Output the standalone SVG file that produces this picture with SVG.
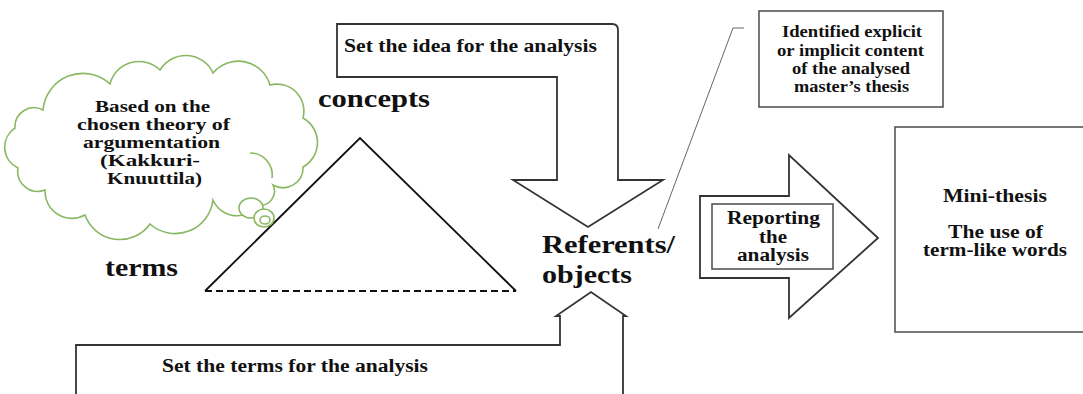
<svg xmlns="http://www.w3.org/2000/svg" width="1083" height="394" viewBox="0 0 1083 394">
<style>
text{font-family:"Liberation Serif","Times New Roman",serif;font-weight:bold;fill:#111}
.s{font-size:18px}
.c{font-size:16px}
.b{font-size:26px}
.shape{fill:#fff;stroke:#333;stroke-width:1.8;stroke-linejoin:miter}
.box{fill:#fff;stroke:#555;stroke-width:1.6}
.cloud{fill:#fff;stroke:#88b862;stroke-width:1.6}
</style>
<rect width="1083" height="394" fill="#fff"/>
<g id="connectors">
<path class="shape" d="M337,24 H612 Q618,24 618,30 V180 H663 L588,227 L513,180 H557 V77 H337 Z"/>
<path class="shape" d="M76,396 V345 H560 V316 H556 L591,292 L626,316 H623 V396"/>
<path class="shape" d="M700,196 H789 V155 L878,238 L789,318 V278 H700 Z"/>
<path d="M658,229 L733,28 H744" fill="none" stroke="#666" stroke-width="1"/>
</g>
<g id="idea-label"><text class="s" x="344" y="52" textLength="253" lengthAdjust="spacingAndGlyphs">Set the idea for the analysis</text></g>
<g id="terms-label"><text class="s" x="162" y="372" textLength="266" lengthAdjust="spacingAndGlyphs">Set the terms for the analysis</text></g>
<g id="triangle">
<path d="M205,291 L360,138 L516,291" fill="none" stroke="#111" stroke-width="1.8"/>
<path d="M205,291 H516" fill="none" stroke="#111" stroke-width="1.8" stroke-dasharray="7 4"/>
</g>
<g id="concepts"><text class="b" x="318" y="107" textLength="112" lengthAdjust="spacingAndGlyphs">concepts</text></g>
<g id="terms"><text class="b" x="105" y="276" textLength="73" lengthAdjust="spacingAndGlyphs">terms</text></g>
<g id="referents">
<text class="b" x="542" y="253" textLength="133" lengthAdjust="spacingAndGlyphs">Referents/</text>
<text class="b" x="542" y="283" textLength="90" lengthAdjust="spacingAndGlyphs">objects</text>
</g>
<g id="cloud">
<path class="cloud" d="M43,110 A40,40 0 0 1 110,84 A30,30 0 0 1 160,70 A30,30 0 0 1 213,73 A33,33 0 0 1 270,85 A27,27 0 0 1 303,118 A28,28 0 0 1 303,167 A20,20 0 0 1 273,185 A14,14 0 0 1 258,205 A26,26 0 0 1 213,200 A38,38 0 0 1 150,224 A37,37 0 0 1 85,215 A27,27 0 0 1 45,190 A20,20 0 0 1 18,168 A23,23 0 0 1 15,128 A19,19 0 0 1 43,110 Z"/>
<path d="M250,153 A22,22 0 0 1 272,178" fill="none" stroke="#88b862" stroke-width="1.6"/>
<ellipse class="cloud" cx="251" cy="208" rx="12" ry="10"/>
<ellipse class="cloud" cx="264" cy="218" rx="10" ry="9"/>
<ellipse class="cloud" cx="265" cy="220" rx="5" ry="4"/>
<text class="c" x="95" y="112" textLength="115" lengthAdjust="spacingAndGlyphs">Based on the</text>
<text class="c" x="77" y="130" textLength="153" lengthAdjust="spacingAndGlyphs">chosen theory of</text>
<text class="c" x="83" y="148" textLength="137" lengthAdjust="spacingAndGlyphs">argumentation</text>
<text class="c" x="100" y="166" textLength="100" lengthAdjust="spacingAndGlyphs">(Kakkuri-</text>
<text class="c" x="107" y="184" textLength="95" lengthAdjust="spacingAndGlyphs">Knuuttila)</text>
</g>
<g id="callout">
<rect class="box" x="759" y="11" width="184" height="96"/>
<text class="c" x="782" y="37" textLength="140" lengthAdjust="spacingAndGlyphs">Identified explicit</text>
<text class="c" x="777" y="56" textLength="147" lengthAdjust="spacingAndGlyphs">or implicit content</text>
<text class="c" x="792" y="74" textLength="118" lengthAdjust="spacingAndGlyphs">of the analysed</text>
<text class="c" x="794" y="92" textLength="115" lengthAdjust="spacingAndGlyphs">master’s thesis</text>
</g>
<g id="reporting">
<rect class="box" x="712" y="204" width="121" height="65"/>
<text class="s" x="727" y="224" textLength="93" lengthAdjust="spacingAndGlyphs">Reporting</text>
<text class="s" x="759" y="243" textLength="28" lengthAdjust="spacingAndGlyphs">the</text>
<text class="s" x="737" y="261" textLength="72" lengthAdjust="spacingAndGlyphs">analysis</text>
</g>
<g id="mini-thesis">
<rect class="box" x="895" y="127" width="200" height="205"/>
<text class="s" x="943" y="202" textLength="104" lengthAdjust="spacingAndGlyphs">Mini-thesis</text>
<text class="s" x="948" y="238" textLength="95" lengthAdjust="spacingAndGlyphs">The use of</text>
<text class="s" x="923" y="256" textLength="144" lengthAdjust="spacingAndGlyphs">term-like words</text>
</g>
</svg>
